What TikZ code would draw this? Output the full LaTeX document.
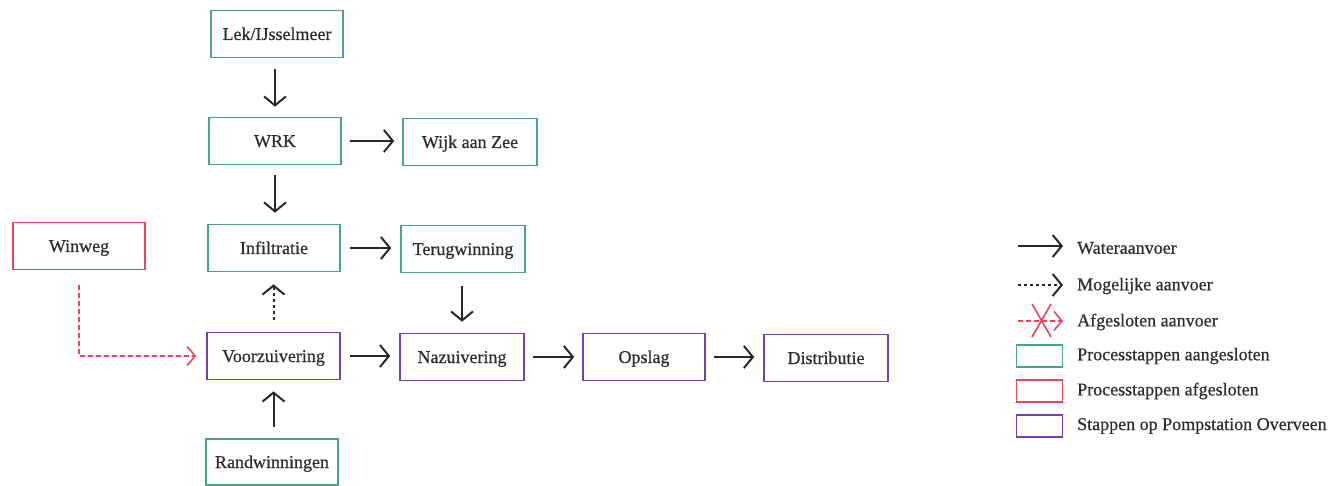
\documentclass[tikz,border=0pt]{standalone}
\usepackage{fontspec}
\setmainfont{Liberation Serif}[FakeBold=0.6]
\usetikzlibrary{arrows.meta}
\definecolor{grn}{RGB}{70,165,135}
\definecolor{rd}{RGB}{232,70,95}
\definecolor{prp}{RGB}{115,65,175}
\definecolor{txt}{RGB}{45,45,45}
\definecolor{arrc}{RGB}{40,40,40}
\begin{document}
\begin{tikzpicture}[x=1pt,y=-1pt,
  box/.style={draw,line width=1.6pt,minimum height=47pt,inner sep=0pt,text=txt,text height=13pt,text depth=1pt,font=\fontsize{18}{21}\selectfont},
  gbox/.style={box,draw=grn},
  rbox/.style={box,draw=rd},
  pbox/.style={box,draw=prp},
  flow/.style={draw=arrc,line width=2pt,-{Straight Barb[length=9pt,width=22pt,line width=2pt]}},
  maybe/.style={flow,dash pattern=on 3pt off 3pt},
  closed/.style={draw=rd,line width=1.6pt,dash pattern=on 5pt off 3pt,-{Straight Barb[length=8pt,width=19pt,line width=1.6pt]}},
  lbl/.style={anchor=west,inner sep=0pt,text=txt,font=\fontsize{18}{21}\selectfont},
  lbox/.style={draw,line width=1.6pt,minimum width=46pt,minimum height=22pt,inner sep=0pt}
]
\useasboundingbox (0,0) rectangle (1336,486);
% nodes
\node[gbox,minimum width=132pt] (lek) at (277,34) {Lek/IJsselmeer};
\node[gbox,minimum width=132pt] (wrk) at (275,141) {WRK};
\node[gbox,minimum width=134pt] (wijk) at (470,142) {Wijk aan Zee};
\node[rbox,minimum width=132pt] (winweg) at (79,246) {Winweg};
\node[gbox,minimum width=132pt] (infil) at (274,248) {Infiltratie};
\node[gbox,minimum width=124pt] (terug) at (463,249) {Terugwinning};
\node[pbox,minimum width=133pt] (voorz) at (273.5,356) {Voorzuivering};
\node[pbox,minimum width=124pt] (naz) at (462,357) {Nazuivering};
\node[pbox,minimum width=122pt] (opslag) at (644,357) {Opslag};
\node[pbox,minimum width=124pt] (distr) at (826,358) {Distributie};
\node[gbox,minimum width=132pt,minimum height=46pt] (rand) at (272,462) {Randwinningen};
% connectors
\draw[flow,shorten <=11pt,shorten >=10pt] (lek.south -| wrk.north) -- (wrk.north);
\draw[flow,shorten <=8pt,shorten >=8pt] (wrk.east) -- (wrk.east -| wijk.west);
\draw[flow,shorten <=10pt,shorten >=11pt] (wrk.south) -- (wrk.south |- infil.north);
\draw[flow,shorten <=9pt,shorten >=9pt] (infil.east) -- (infil.east -| terug.west);
\draw[flow,shorten <=13pt,shorten >=11pt] (terug.south -| naz.north) -- (naz.north);
\draw[maybe,shorten <=12pt,shorten >=12pt] (voorz.north) -- (voorz.north |- infil.south);
\draw[flow,shorten <=9pt,shorten >=9pt] (voorz.east) -- (voorz.east -| naz.west);
\draw[flow,shorten <=8pt,shorten >=8pt] (naz.east) -- (naz.east -| opslag.west);
\draw[flow,shorten <=8pt,shorten >=9pt] (opslag.east) -- (opslag.east -| distr.west);
\draw[flow,shorten <=11pt,shorten >=11pt] (rand.north -| voorz.south) -- (voorz.south);
\draw[closed,shorten <=15pt,shorten >=10pt] (winweg.south) |- (voorz.west);
% legend
\coordinate (a1s) at (1018,246); \coordinate (a1e) at (1063,246);
\coordinate (a2s) at (1018,285); \coordinate (a2e) at (1063,285);
\coordinate (a3s) at (1018,321); \coordinate (a3e) at (1063,321);
\coordinate (x1) at (1032,304); \coordinate (x2) at (1051,337);
\coordinate (x3) at (1051,304); \coordinate (x4) at (1032,337);
\draw[flow] (a1s) -- (a1e);
\draw[maybe] (a2s) -- (a2e);
\draw[closed] (a3s) -- (a3e);
\draw[draw=rd,line width=1.6pt] (x1) -- (x2) (x3) -- (x4);
\node[lbox,draw=grn] (lg) at (1039.5,356) {};
\node[lbox,draw=rd] (lr) at (1039.5,391) {};
\node[lbox,draw=prp] (lp) at (1039.5,426) {};
\node[lbl] (t1) at (1077,248) {Wateraanvoer};
\node[lbl] (t2) at (1077,286) {Mogelijke aanvoer};
\node[lbl] (t3) at (1077,322) {Afgesloten aanvoer};
\node[lbl] (t4) at (1077,356) {Processtappen aangesloten};
\node[lbl] (t5) at (1077,391) {Processtappen afgesloten};
\node[lbl] (t6) at (1077,426) {Stappen op Pompstation Overveen};
\end{tikzpicture}
\end{document}
